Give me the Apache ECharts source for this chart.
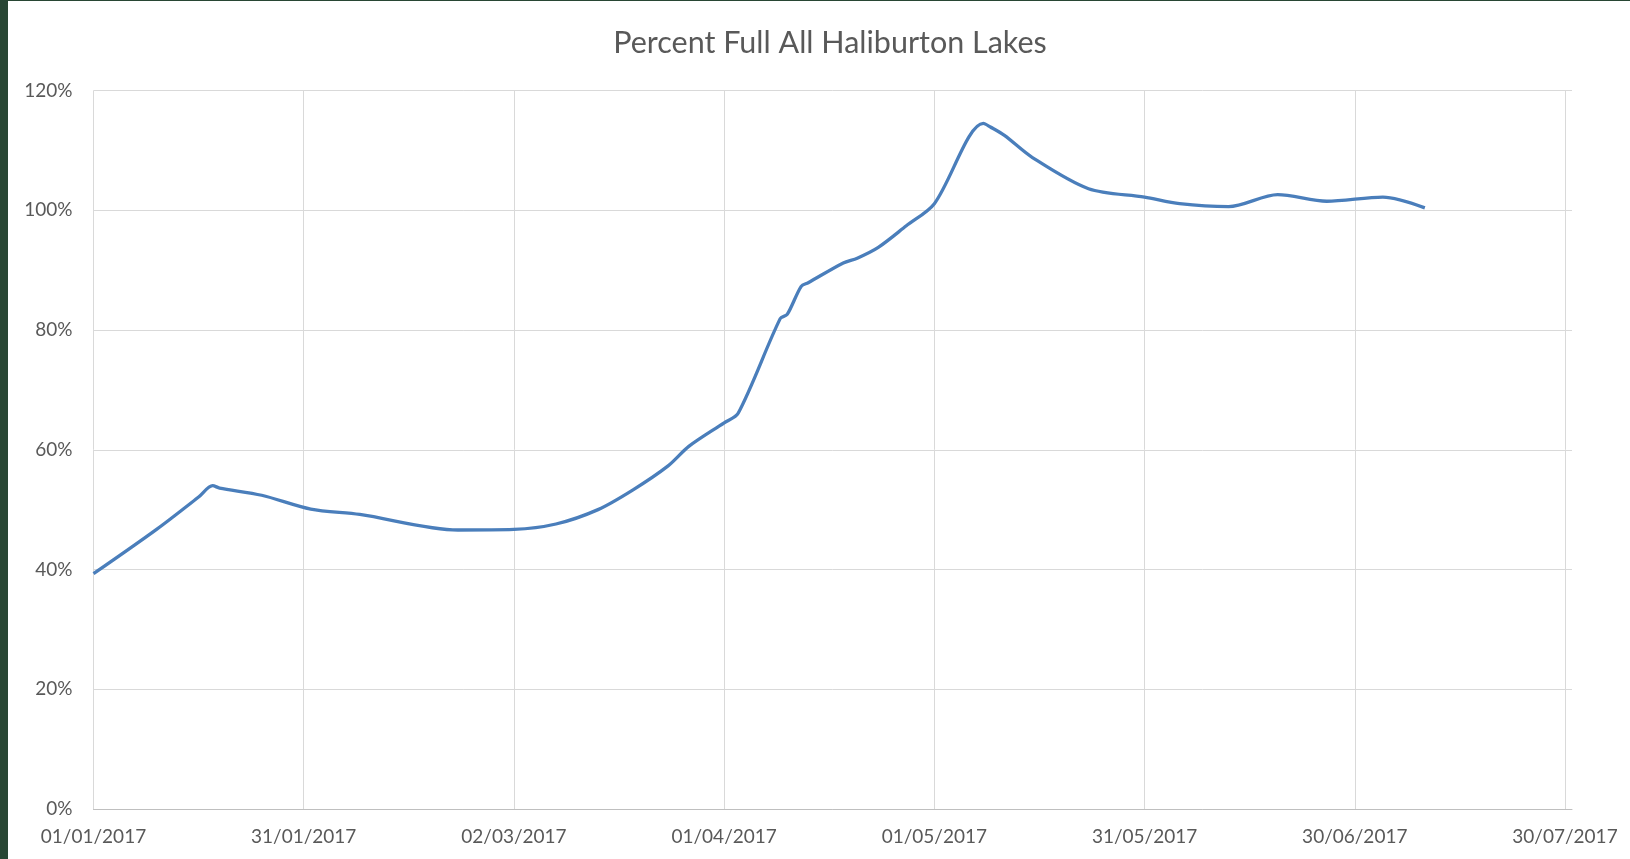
<!DOCTYPE html>
<html>
<head>
<meta charset="utf-8">
<script src="https://cdn.jsdelivr.net/npm/echarts@6/dist/echarts.min.js"></script>
<style>
  html, body { margin: 0; padding: 0; background: #284634; }
  #chart { position: absolute; left: 8px; top: 1px; width: 1622px; height: 858px; background: #ffffff; }
</style>
</head>
<body>
<div id="chart"></div>
<script>
// readings (dd/mm/yyyy in the axis, ISO here)
const dates = [
  '2017-01-01', '2017-01-10', '2017-01-16', '2017-01-18', '2017-01-19', '2017-01-25',
  '2017-02-01', '2017-02-08', '2017-02-22', '2017-03-02', '2017-03-08',
  '2017-03-14', '2017-03-19', '2017-03-24', '2017-03-27', '2017-04-01',
  '2017-04-03', '2017-04-09', '2017-04-10', '2017-04-12', '2017-04-13',
  '2017-04-18', '2017-04-20', '2017-04-23', '2017-04-27', '2017-05-01',
  '2017-05-08', '2017-05-09', '2017-05-11', '2017-05-15', '2017-05-23',
  '2017-05-31', '2017-06-05', '2017-06-12', '2017-06-19', '2017-06-26',
  '2017-07-04', '2017-07-10'
];
const percentFull = [
  39.3, 46.7, 52.1, 54.0, 53.6, 52.4,
  50.1, 49.2, 46.6, 46.7, 47.6,
  50.0, 53.3, 57.3, 60.6, 64.5,
  66.1, 81.9, 82.6, 87.3, 87.9,
  91.2, 92.0, 93.8, 97.4, 101.1,
  114.5, 113.9, 112.5, 108.8, 103.6,
  102.2, 101.1, 100.6, 102.6, 101.5,
  102.2, 100.4
];
const yTicks = [0, 20, 40, 60, 80, 100, 120];

const DAY = 86400000;
const start = Date.UTC(2017, 0, 1);
const toDay = s => {
  const p = s.split('-');
  return Math.round((Date.UTC(+p[0], +p[1] - 1, +p[2]) - start) / DAY);
};
const dayLabel = d => {
  const t = new Date(start + d * DAY);
  const dd = String(t.getUTCDate()).padStart(2, '0');
  const mm = String(t.getUTCMonth() + 1).padStart(2, '0');
  return dd + '/' + mm + '/' + t.getUTCFullYear();
};

const seriesData = dates.map((d, i) => [toDay(d), percentFull[i]]);

const chart = echarts.init(document.getElementById('chart'));
const txt = '#595959';
const font = 'Lato, "Open Sans", sans-serif';

chart.setOption({
  animation: false,
  title: {
    text: 'Percent Full All Haliburton Lakes',
    left: 817,
    textAlign: 'center',
    top: 22,
    textStyle: { color: txt, fontFamily: font, fontSize: 30.5, fontWeight: 'normal' }
  },
  grid: { left: 85.5, right: 58, top: 89.5, bottom: 50, containLabel: false },
  xAxis: {
    type: 'value',
    min: 0,
    max: 211,
    interval: 30,
    axisLine: { show: true, lineStyle: { color: '#bfbfbf', width: 1 } },
    axisTick: { show: false },
    axisLabel: {
      color: txt, fontFamily: font, fontSize: 19, margin: 18,
      showMaxLabel: false,
      formatter: v => (v % 30 === 0 ? dayLabel(v) : '')
    },
    splitLine: { show: true, showMaxLine: false, lineStyle: { color: '#d9d9d9', width: 1 } }
  },
  yAxis: {
    type: 'value',
    min: yTicks[0],
    max: yTicks[yTicks.length - 1],
    interval: 20,
    axisLine: { show: false },
    axisTick: { show: false },
    axisLabel: {
      color: txt, fontFamily: font, fontSize: 19, margin: 21,
      formatter: v => v + '%'
    },
    splitLine: { show: true, lineStyle: { color: '#d9d9d9', width: 1 } }
  },
  series: [{
    type: 'line',
    data: seriesData,
    smooth: 0.3,
    showSymbol: false,
    lineStyle: { color: '#4a7ebb', width: 3.3 },
    z: 3
  }]
});
</script>
</body>
</html>
